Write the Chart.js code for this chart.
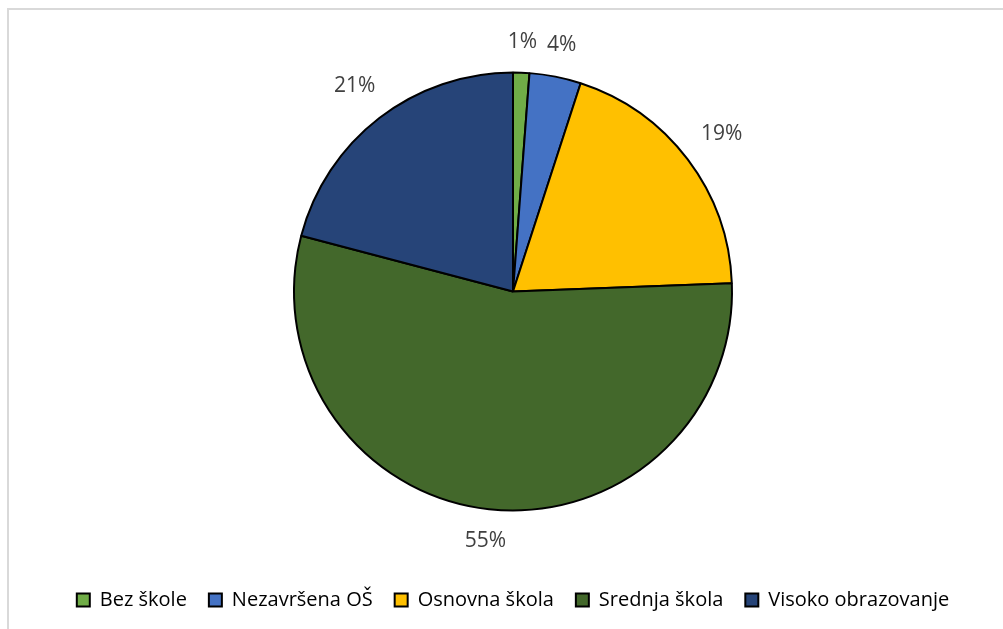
<!DOCTYPE html>
<html>
<head>
<meta charset="utf-8">
<script src="https://cdn.jsdelivr.net/npm/chart.js@4"></script>
<style>
  html, body { margin: 0; padding: 0; background: #fff; }
  #wrap { width: 1003px; height: 629px; position: relative; }
</style>
</head>
<body>
<div id="wrap"><canvas id="pie"></canvas></div>
<script>
var categories = ["Bez škole", "Nezavršena OŠ", "Osnovna škola", "Srednja škola", "Visoko obrazovanje"];
var shares = [1.2, 3.8, 19.4, 54.7, 20.9];
var sliceLabels = ["1%", "4%", "19%", "55%", "21%"];
var colors = ["#70AD47", "#4472C4", "#FFC000", "#43682B", "#264478"];

// grey frame on top/left edge, like the original chart box
var framePlugin = {
    id: "frame",
    beforeDraw: function(chart) {
        var ctx = chart.ctx;
        ctx.save();
        ctx.strokeStyle = "#D9D9D9";
        ctx.lineWidth = 2;
        ctx.beginPath();
        ctx.moveTo(8, chart.height);
        ctx.lineTo(8, 9);
        ctx.lineTo(chart.width, 9);
        ctx.stroke();
        ctx.restore();
    }
};

// percent labels outside each slice (outside end, box kept clear of the rim)
var outLabels = {
    id: "outLabels",
    afterDatasetsDraw: function(chart) {
        var ctx = chart.ctx;
        var arcs = chart.getDatasetMeta(0).data;
        ctx.save();
        ctx.font = "21px 'Open Sans'";
        ctx.fillStyle = "#404040";
        ctx.textAlign = "center";
        ctx.textBaseline = "middle";
        arcs.forEach(function(arc, i) {
            var p = arc.getProps(["x", "y", "startAngle", "endAngle", "outerRadius"], true);
            var mid = (p.startAngle + p.endAngle) / 2;
            var w = ctx.measureText(sliceLabels[i]).width;
            var ext = Math.abs(Math.cos(mid)) * w / 2 + Math.abs(Math.sin(mid)) * 10;
            var r = p.outerRadius + 20 + ext;
            ctx.fillText(sliceLabels[i], p.x + Math.cos(mid) * r, p.y + Math.sin(mid) * r);
        });
        ctx.restore();
    }
};

new Chart(document.getElementById("pie"), {
    type: "pie",
    data: {
        labels: categories,
        datasets: [{
            data: shares,
            backgroundColor: colors,
            borderColor: "#000",
            borderWidth: 2,
            radius: 219
        }]
    },
    options: {
        responsive: true,
        maintainAspectRatio: false,
        animation: false,
        layout: { padding: { left: 23, top: 15, bottom: 9 } },
        plugins: {
            tooltip: { enabled: false },
            legend: {
                position: "bottom",
                labels: {
                    boxWidth: 13,
                    boxHeight: 13,
                    padding: 22,
                    color: "#595959",
                    font: { family: "'Open Sans'", size: 20 },
                    generateLabels: function(chart) {
                        return categories.map(function(c, i) {
                            return { text: c, fillStyle: colors[i], strokeStyle: "#000", lineWidth: 2, index: i };
                        });
                    }
                }
            }
        }
    },
    plugins: [framePlugin, outLabels]
});
</script>
</body>
</html>
